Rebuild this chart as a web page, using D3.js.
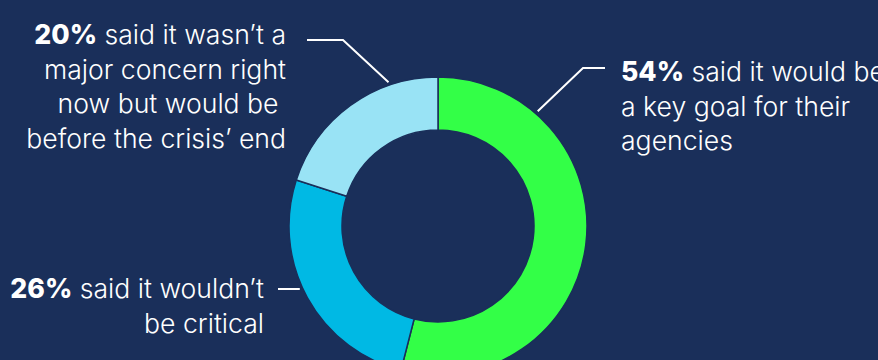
<!DOCTYPE html>
<html>
<head>
<meta charset="utf-8">
<script src="https://cdn.jsdelivr.net/npm/d3@7"></script>
<style>
  html, body { margin: 0; padding: 0; background: #1a2f5a; }
  svg { display: block; }
  text { font-family: Inter, "Open Sans", sans-serif; fill: #ffffff; }
</style>
</head>
<body>
<svg width="878" height="360"></svg>
<script>
// survey answers, clockwise from 12 o'clock
var categories = ["key goal", "not critical", "not a concern yet"];
var values = [54, 26, 20];
var colors = ["#33ff47", "#00b9e4", "#99e3f5"];

// label text, one entry per line (first line gets the bold percentage)
var pctLabels = ["54%", "26%", "20%"];
var labelLines = [
  [" said it would be", "a key goal for their", "agencies"],
  [" said it wouldn\u2019t", "be critical"],
  [" said it wasn\u2019t a", "major concern right", "now but would be\u00a0", "before the crisis\u2019 end"]
];

var svg = d3.select("svg"),
  cx = 438, cy = 226,
  outerR = 149, innerR = 96,
  fontSize = 26.6, lineH = 34.7

var bg = "#1a2f5a"

var g = svg.append("g")
  .attr("transform", "translate(" + cx + "," + cy + ")")

var pie = d3.pie().sort(null).value(function(d) { return d; })
var arc = d3.arc().innerRadius(innerR).outerRadius(outerR)

g.selectAll("path.slice")
  .data(pie(values))
  .enter().append("path")
  .attr("class", "slice")
  .attr("d", arc)
  .attr("fill", function(d, i) { return colors[i]; })
  .attr("stroke", bg)
  .attr("stroke-width", 1.5)

// leader lines: angle where the line touches the ring, elbow and end of the tick
var leaders = [
  { angle: 41, elbow: [583, 68], end: [605, 68] },
  { angle: 245.4, elbow: null, end: [278, 289] },
  { angle: -19, elbow: [343, 40], end: [307, 40] }
]

leaders.forEach(function(l) {
  var a = l.angle * Math.PI / 180,
    r = outerR + 3,
    p0 = [cx + r * Math.sin(a), cy - r * Math.cos(a)]
  var pts = l.elbow ? [p0, l.elbow, l.end] : [[p0[0], l.end[1]], l.end]
  svg.append("path")
    .attr("d", d3.line()(pts))
    .attr("fill", "none")
    .attr("stroke", "#ffffff")
    .attr("stroke-width", 2)
})

// label blocks
var blocks = [
  { x: 621, y: 81, anchor: "start" },
  { x: 264, y: 298, anchor: "end" },
  { x: 286, y: 44, anchor: "end" }
]

blocks.forEach(function(b, i) {
  var t = svg.append("text")
    .attr("x", b.x)
    .attr("y", b.y)
    .attr("text-anchor", b.anchor)
    .style("font-size", fontSize + "px")
    .style("font-weight", 300)
  labelLines[i].forEach(function(line, j) {
    if (j == 0) {
      var first = t.append("tspan").attr("x", b.x).attr("y", b.y)
      first.append("tspan").style("font-weight", 800).text(pctLabels[i])
      first.append("tspan").text(line)
    } else {
      t.append("tspan")
        .attr("x", b.x)
        .attr("y", b.y + j * lineH)
        .text(line)
    }
  })
})
</script>
</body>
</html>
